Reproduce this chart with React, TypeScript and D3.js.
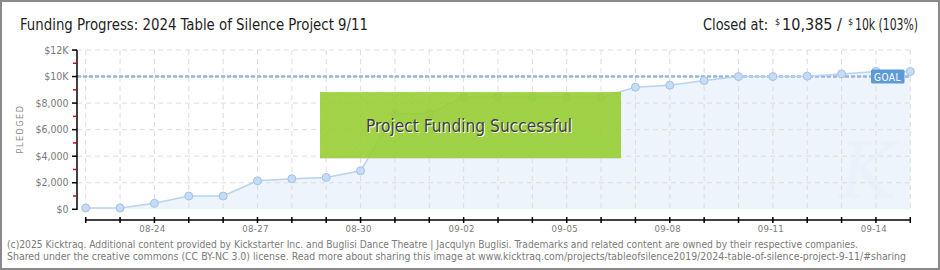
import React, { useEffect } from "react";
import * as d3 from "d3";

// Daily pledged totals for the campaign
const dates: string[] = [
  "2024-08-22", "2024-08-23", "2024-08-24", "2024-08-25", "2024-08-26",
  "2024-08-27", "2024-08-28", "2024-08-29", "2024-08-30", "2024-08-31",
  "2024-09-01", "2024-09-02", "2024-09-03", "2024-09-04", "2024-09-05",
  "2024-09-06", "2024-09-07", "2024-09-08", "2024-09-09", "2024-09-10",
  "2024-09-11", "2024-09-12", "2024-09-13", "2024-09-14", "2024-09-15",
];
const pledged: number[] = [
  100, 100, 450, 1000, 1000,
  2150, 2300, 2400, 2900, 7200,
  7200, 8450, 8450, 8450, 8450,
  8450, 9200, 9350, 9700, 10000,
  10000, 10030, 10200, 10385, 10385,
];
const goal = 10000;
const yTicks: number[] = [0, 2000, 4000, 6000, 8000, 10000, 12000];
const yTickLabels: string[] = ["$0", "$2,000", "$4,000", "$6,000", "$8,000", "$10K", "$12K"];
const xLabelEvery = 3;

const title = "Funding Progress: 2024 Table of Silence Project 9/11";
const footer1 =
  "(c)2025 Kicktraq. Additional content provided by Kickstarter Inc. and Buglisi Dance Theatre | Jacqulyn Buglisi. Trademarks and related content are owned by their respective companies.";
const footer2 =
  "Shared under the creative commons (CC BY-NC 3.0) license. Read more about sharing this image at www.kicktraq.com/projects/tableofsilence2019/2024-table-of-silence-project-9-11/#sharing";

const W = 940;
const H = 270;

export default function App() {
  useEffect(() => {
    document.body.style.margin = "0";
  }, []);

  const parse = d3.timeParse("%Y-%m-%d");
  const data = dates.map((d, i) => ({ date: parse(d) as Date, value: pledged[i] }));
  const allDays = data.map((d) => d.date);

  const x = d3
    .scaleTime()
    .domain([allDays[0], allDays[allDays.length - 1]])
    .range([85.7, 910.3]);
  const y = d3.scaleLinear().domain([0, 12000]).range([209.3, 50]);

  const fmt = d3.timeFormat("%m-%d");
  const line = d3
    .line<{ date: Date; value: number }>()
    .x((d) => x(d.date))
    .y((d) => y(d.value));
  const area = d3
    .area<{ date: Date; value: number }>()
    .x((d) => x(d.date))
    .y0(y(0))
    .y1((d) => y(d.value));

  const minorTicks = d3.range(1000, 12000, 2000);
  const plotLeft = 77;
  const plotRight = x(allDays[allDays.length - 1]);
  const axisFont = "'DejaVu Sans Condensed', 'DejaVu Sans', sans-serif";
  const headFont = "'DejaVu Sans Condensed', 'DejaVu Sans', sans-serif";

  return (
    <svg
      width={W}
      height={H}
      style={{ position: "fixed", left: 0, top: 0, display: "block", background: "#fff" }}
    >
      <defs>
        <pattern id="hatch" width="4" height="4" patternUnits="userSpaceOnUse" patternTransform="rotate(45)">
          <line x1="0" y1="0" x2="0" y2="4" stroke="#8cc832" strokeWidth="1" opacity="0.3" />
        </pattern>
      </defs>

      {/* frame */}
      <rect x={1} y={1} width={W - 2} height={H - 2} fill="#fff" stroke="#8a8a8a" strokeWidth={2} />

      {/* header */}
      <text
        x={20}
        y={30}
        fontFamily={headFont}
        fontSize={16}
        fill="#1e1e1e"
        textLength={348}
        lengthAdjust="spacingAndGlyphs"
      >
        {title}
      </text>
      <g fontFamily={headFont} fill="#1e1e1e">
        <text x={703} y={30} fontSize={15} textLength={65} lengthAdjust="spacingAndGlyphs">Closed at:</text>
        <text x={775} y={25} fontSize={9}>$</text>
        <text x={782} y={30} fontSize={15} textLength={60} lengthAdjust="spacingAndGlyphs">10,385 /</text>
        <text x={848} y={25} fontSize={9}>$</text>
        <text x={855} y={30} fontSize={15} textLength={63} lengthAdjust="spacingAndGlyphs">10k (103%)</text>
      </g>

      {/* area under the pledged line */}
      <path d={area(data) ?? ""} fill="#edf4fc" />

      {/* grid */}
      {yTicks.slice(1).map((t) => (
        <line
          key={"hg" + t}
          x1={plotLeft}
          x2={plotRight}
          y1={y(t)}
          y2={y(t)}
          stroke="#dcdcdc"
          strokeDasharray="5 4"
        />
      ))}
      {allDays.map((d, i) => (
        <line
          key={"vg" + i}
          x1={x(d)}
          x2={x(d)}
          y1={y(12000)}
          y2={210}
          stroke="#dcdcdc"
          strokeDasharray="5 4"
        />
      ))}

      {/* watermark */}
      <text
        x={868}
        y={198}
        textAnchor="middle"
        fontFamily="'DejaVu Serif', serif"
        fontStyle="italic"
        fontSize={78}
        fill="#e6eff9"
        opacity={0.45}
      >
        K
      </text>

      {/* goal line */}
      <line
        x1={plotLeft}
        x2={plotRight}
        y1={y(goal)}
        y2={y(goal)}
        stroke="#96b8df"
        strokeWidth={2.5}
        strokeDasharray="4 2"
      />

      {/* pledged line and points */}
      <path d={line(data) ?? ""} fill="none" stroke="#b7d3f1" strokeWidth={1.5} />
      {data.map((d, i) => (
        <circle
          key={"pt" + i}
          cx={x(d.date)}
          cy={y(d.value)}
          r={4}
          fill="#c5dcf6"
          stroke="#a3c1e5"
          strokeWidth={1}
        />
      ))}

      {/* goal tag */}
      <rect x={871} y={69.5} width={33.5} height={14} rx={1.5} fill="#5f9ad8" />
      <text
        x={887.5}
        y={80.5}
        textAnchor="middle"
        fontFamily={axisFont}
        fontSize={10}
        fill="#fff"
        letterSpacing={0.5}
      >
        GOAL
      </text>

      {/* success banner */}
      <rect x={320} y={93} width={301} height={66} fill="#cfcfcf" opacity={0.6} />
      <rect x={320} y={92} width={301} height={66} fill="rgba(140,205,20,0.75)" />
      <rect x={320} y={92} width={301} height={66} fill="url(#hatch)" />
      <text
        x={470}
        y={133}
        textAnchor="middle"
        fontFamily={headFont}
        fontSize={18}
        fill="#fff"
        textLength={206}
        lengthAdjust="spacingAndGlyphs"
      >
        Project Funding Successful
      </text>
      <text
        x={469}
        y={132}
        textAnchor="middle"
        fontFamily={headFont}
        fontSize={18}
        fill="#3f3f3f"
        textLength={206}
        lengthAdjust="spacingAndGlyphs"
      >
        Project Funding Successful
      </text>

      {/* y axis */}
      <line x1={plotLeft} x2={plotLeft} y1={y(12000)} y2={210} stroke="#000" strokeWidth={1.5} />
      {yTicks.map((t, i) => (
        <g key={"yt" + t}>
          <line x1={72} x2={plotLeft} y1={y(t)} y2={y(t)} stroke="#000" strokeWidth={1.5} />
          <text
            x={68.5}
            y={y(t) + 3.5}
            textAnchor="end"
            fontFamily={axisFont}
            fontSize={10.5}
            fill="#7a7a7a"
          >
            {yTickLabels[i]}
          </text>
        </g>
      ))}
      {minorTicks.map((t) => (
        <line key={"ym" + t} x1={73} x2={76} y1={y(t)} y2={y(t)} stroke="#e00000" strokeWidth={1.5} />
      ))}
      <text
        transform={`translate(23,129) rotate(-90)`}
        textAnchor="middle"
        fontFamily={axisFont}
        fontSize={9}
        fill="#8a8a8a"
        letterSpacing={1.5}
      >
        PLEDGED
      </text>

      {/* x axis */}
      <line x1={x(allDays[0])} x2={plotRight} y1={220} y2={220} stroke="#000" strokeWidth={1.5} />
      {allDays.map((d, i) => (
        <g key={"xt" + i}>
          <line x1={x(d)} x2={x(d)} y1={217} y2={223} stroke="#000" strokeWidth={1.5} />
          {i % xLabelEvery === 2 && (
            <text
              x={x(d) - 2}
              y={232}
              textAnchor="middle"
              fontFamily={axisFont}
              fontSize={9.5}
              fill="#7a7a7a"
              letterSpacing={0.3}
            >
              {fmt(d)}
            </text>
          )}
        </g>
      ))}

      {/* footer */}
      <text
        x={7}
        y={248}
        fontFamily={headFont}
        fontSize={10}
        fill="#7a7a7a"
        textLength={851}
        lengthAdjust="spacingAndGlyphs"
      >
        {footer1}
      </text>
      <text
        x={7}
        y={260}
        fontFamily={headFont}
        fontSize={10}
        fill="#7a7a7a"
        textLength={899}
        lengthAdjust="spacingAndGlyphs"
      >
        {footer2}
      </text>
    </svg>
  );
}
